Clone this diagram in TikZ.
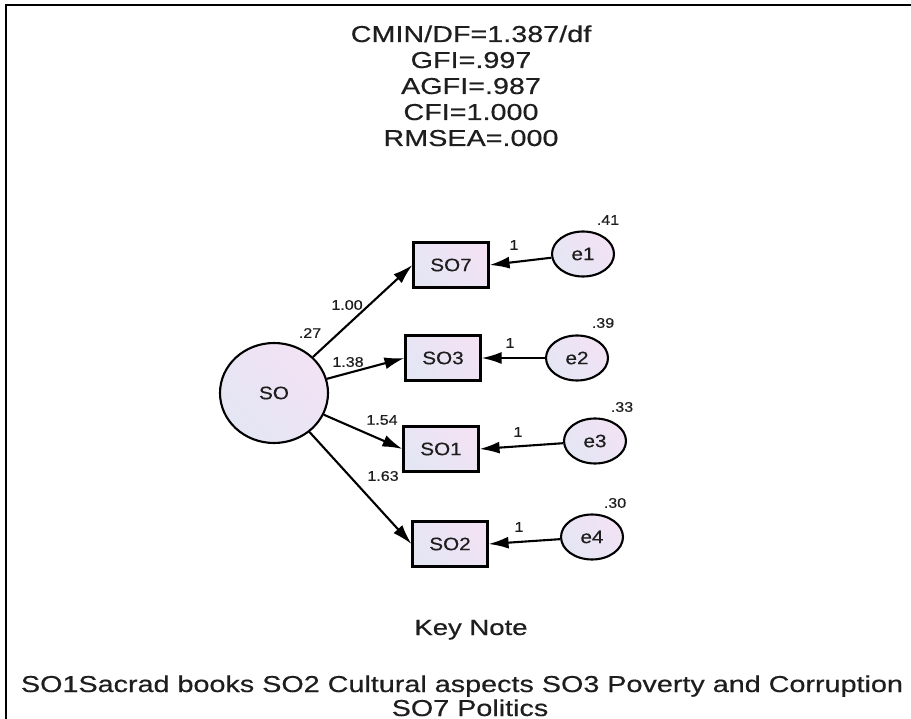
\documentclass[tikz,border=0pt]{standalone}
\usepackage{fontspec}
\setmainfont{Liberation Sans}[FakeBold=0.4]
\usetikzlibrary{arrows.meta,shapes.geometric}
\definecolor{fillA}{RGB}{228,230,244}
\definecolor{fillB}{RGB}{242,226,244}
\definecolor{inkc}{RGB}{30,30,30}
\newcommand{\wideA}[1]{\scalebox{1.25}[1]{#1}}
\newcommand{\wideB}[1]{\scalebox{1.15}[1]{#1}}
\tikzset{
  shade/.style={left color=fillA, right color=fillB, shading angle=135},
  obs/.style={draw, line width=2.1pt, shade, minimum width=75pt, minimum height=45pt, inner sep=0pt, text=inkc, font=\fontsize{18}{20}\selectfont},
  errv/.style={draw, ellipse, line width=2.1pt, shade, minimum width=62pt, minimum height=45pt, inner sep=0pt, text=inkc, font=\fontsize{18}{20}\selectfont},
  latv/.style={draw, ellipse, line width=2.1pt, shade, minimum width=108pt, minimum height=100pt, inner sep=0pt, text=inkc, font=\fontsize{18}{20}\selectfont},
  lbl/.style={inner sep=0pt, text=inkc, font=\fontsize{14}{16}\selectfont},
  path/.style={line width=2.1pt, -{Latex[length=20pt,width=12pt]}},
  ttl/.style={inner sep=0pt, anchor=base, text=inkc, font=\fontsize{23}{26}\selectfont},
}
\begin{document}
\begin{tikzpicture}[x=1pt,y=-1pt]
\useasboundingbox (0,0) rectangle (911,719);
\fill[white] (0,0) rectangle (911,719);
% frame
\draw[line width=2pt] (6,719) -- (6,5) -- (911,5);
% fit indices
\node[ttl] (t1) at (471,42) {\wideA{CMIN/DF=1.387/df}};
\node[ttl] (t2) at (471,68) {\wideA{GFI=.997}};
\node[ttl] (t3) at (471,94) {\wideA{AGFI=.987}};
\node[ttl] (t4) at (471,120) {\wideA{CFI=1.000}};
\node[ttl] (t5) at (471,146) {\wideA{RMSEA=.000}};
% nodes
\node[latv] (SO) at (274,393) {\wideB{SO}};
\node[obs] (SO7) at (451,265) {\wideB{SO7}};
\node[obs] (SO3) at (443,358) {\wideB{SO3}};
\node[obs] (SO1) at (441,449) {\wideB{SO1}};
\node[obs] (SO2) at (450,544) {\wideB{SO2}};
\node[errv] (e1) at (583,254) {\wideB{e1}};
\node[errv] (e2) at (577,358) {\wideB{e2}};
\node[errv] (e3) at (595,441) {\wideB{e3}};
\node[errv] (e4) at (592,537) {\wideB{e4}};
% paths
\draw[path] (SO) -- (SO7.west);
\draw[path] (SO) -- (SO3.west);
\draw[path] (SO) -- (SO1.west);
\draw[path] (SO) -- (SO2.west);
\draw[path] (e1) -- (SO7.east);
\draw[path] (e2) -- (SO3.east);
\draw[path] (e3) -- (SO1.east);
\draw[path] (e4) -- (SO2.east);
% labels
\node[lbl] (v0) at (310,333) {\wideB{.27}};
\node[lbl] (v1) at (608,220) {\wideB{.41}};
\node[lbl] (v2) at (603,323) {\wideB{.39}};
\node[lbl] (v3) at (622,407) {\wideB{.33}};
\node[lbl] (v4) at (615,503) {\wideB{.30}};
\node[lbl] (w1) at (347,305) {\wideB{1.00}};
\node[lbl] (w2) at (348,362) {\wideB{1.38}};
\node[lbl] (w3) at (382,420) {\wideB{1.54}};
\node[lbl] (w4) at (383,476) {\wideB{1.63}};
\node[lbl] (f1) at (514,245) {\wideB{1}};
\node[lbl] (f2) at (510,343) {\wideB{1}};
\node[lbl] (f3) at (518,432) {\wideB{1}};
\node[lbl] (f4) at (519,527) {\wideB{1}};
% key note
\node[ttl, font=\fontsize{22}{24}\selectfont] (key) at (471,635) {\wideA{Key Note}};
\node[ttl] (k1) at (462,692) {\wideA{SO1Sacrad books SO2 Cultural aspects SO3 Poverty and Corruption}};
\node[ttl] (k2) at (470,716) {\wideA{SO7 Politics}};
\end{tikzpicture}
\end{document}
